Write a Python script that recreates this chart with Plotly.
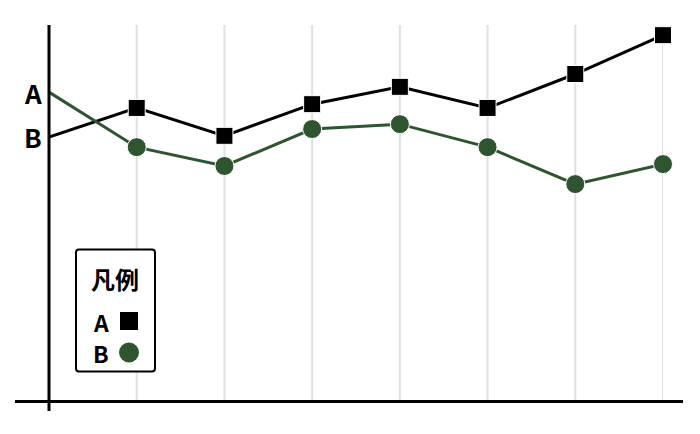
import re
import plotly.graph_objects as go

# ---- data ----
x_idx = [0, 1, 2, 3, 4, 5, 6, 7]
series_a = [70.3, 78.0, 70.6, 79.0, 83.6, 78.0, 87.0, 97.3]
series_b = [82.2, 67.6, 62.6, 72.4, 73.7, 67.6, 57.8, 63.1]
series_names = ["A", "B"]
legend_title = "凡例"

BLACK = "#000000"
GREEN = "#2f5530"
GRID = "#e0e0e0"
FONT = "Noto Sans CJK JP"

W, H = 700, 434
OFF = 8  # page body margin
# target plot area in screen pixels: x 49..663, y 25..402
SX0, SX1, SY0, SY1 = 49, 663, 25, 402
L, T = SX0 - OFF, SY0 - OFF
R = W - (SX1 - OFF)
B = H - (SY1 - OFF)
PW, PH = SX1 - SX0, SY1 - SY0


def px(xp):
    return (xp - SX0) / PW


def py(yp):
    return (SY1 - yp) / PH


fig = go.Figure()

fig.add_trace(go.Scatter(
    x=x_idx, y=series_a, mode="lines+markers", name=series_names[0],
    line=dict(color=BLACK, width=3),
    marker=dict(symbol="square", color=BLACK, opacity=1,
                size=[0] + [17] * (len(x_idx) - 1)),
    cliponaxis=False, showlegend=False,
))
fig.add_trace(go.Scatter(
    x=x_idx, y=series_b, mode="lines+markers", name=series_names[1],
    line=dict(color=GREEN, width=3),
    marker=dict(symbol="circle", color=GREEN, opacity=1,
                size=[0] + [19] * (len(x_idx) - 1)),
    cliponaxis=False, showlegend=False,
))

shapes = []
# vertical gridlines
for xv in x_idx[1:]:
    shapes.append(dict(type="line", xref="x", yref="paper", x0=xv, x1=xv, y0=0, y1=1,
                       line=dict(color=GRID, width=2), layer="below"))
# axis lines with overhang
shapes.append(dict(type="line", xref="paper", yref="paper",
                   x0=px(15), x1=px(683), y0=py(401.5), y1=py(401.5),
                   line=dict(color=BLACK, width=3), layer="above"))
shapes.append(dict(type="line", xref="paper", yref="paper",
                   x0=px(49), x1=px(49), y0=py(411), y1=1,
                   line=dict(color=BLACK, width=3), layer="above"))

# legend box (rounded rect)
lx0, lx1, ly0, ly1 = 76, 155, 249.5, 371.5
r = 3
path = (f"M {lx0 + r},{ly0} L {lx1 - r},{ly0} Q {lx1},{ly0} {lx1},{ly0 + r} "
        f"L {lx1},{ly1 - r} Q {lx1},{ly1} {lx1 - r},{ly1} "
        f"L {lx0 + r},{ly1} Q {lx0},{ly1} {lx0},{ly1 - r} "
        f"L {lx0},{ly0 + r} Q {lx0},{ly0} {lx0 + r},{ly0} Z")


def conv(m):
    a, b = float(m.group(1)), float(m.group(2))
    return f"{px(a):.5f},{py(b):.5f}"


path_p = re.sub(r"([\d.]+),([\d.]+)", conv, path)
shapes.append(dict(type="path", xref="paper", yref="paper", path=path_p,
                   line=dict(color=BLACK, width=2), fillcolor="white", layer="above"))
# legend symbols
shapes.append(dict(type="rect", xref="paper", yref="paper",
                   x0=px(120), x1=px(138), y0=py(312), y1=py(330),
                   line=dict(width=0), fillcolor=BLACK, layer="above"))
shapes.append(dict(type="circle", xref="paper", yref="paper",
                   x0=px(119), x1=px(139), y0=py(342.5), y1=py(362.5),
                   line=dict(width=0), fillcolor=GREEN, layer="above"))

annotations = [
    dict(text=f"<b>{series_names[0]}</b>", x=px(44), y=series_b[0], xref="paper", yref="y",
         xanchor="right", yanchor="middle", showarrow=False,
         font=dict(family=FONT, size=26, color=BLACK)),
    dict(text=f"<b>{series_names[1]}</b>", x=px(44), y=series_a[0], xref="paper", yref="y",
         xanchor="right", yanchor="middle", showarrow=False,
         font=dict(family=FONT, size=26, color=BLACK)),
    dict(text=f"<b>{legend_title}</b>", x=px(115), y=py(278.5), xref="paper", yref="paper",
         xanchor="center", yanchor="middle", showarrow=False,
         font=dict(family=FONT, size=24, color=BLACK)),
    dict(text=f"<b>{series_names[0]}</b>", x=px(100.5), y=py(321.5), xref="paper", yref="paper",
         xanchor="center", yanchor="middle", showarrow=False,
         font=dict(family=FONT, size=23, color=BLACK)),
    dict(text=f"<b>{series_names[1]}</b>", x=px(100.5), y=py(352.5), xref="paper", yref="paper",
         xanchor="center", yanchor="middle", showarrow=False,
         font=dict(family=FONT, size=23, color=BLACK)),
]

fig.update_layout(
    width=W, height=H,
    margin=dict(l=L, r=R, t=T, b=B),
    paper_bgcolor="white", plot_bgcolor="white",
    shapes=shapes, annotations=annotations,
    showlegend=False,
    font=dict(family=FONT),
    xaxis=dict(range=[0, 7], showticklabels=False, showgrid=False,
               zeroline=False, showline=False, ticks=""),
    yaxis=dict(range=[0, 100], showticklabels=False, showgrid=False,
               zeroline=False, showline=False, ticks=""),
)

fig.write_html("out.html")
